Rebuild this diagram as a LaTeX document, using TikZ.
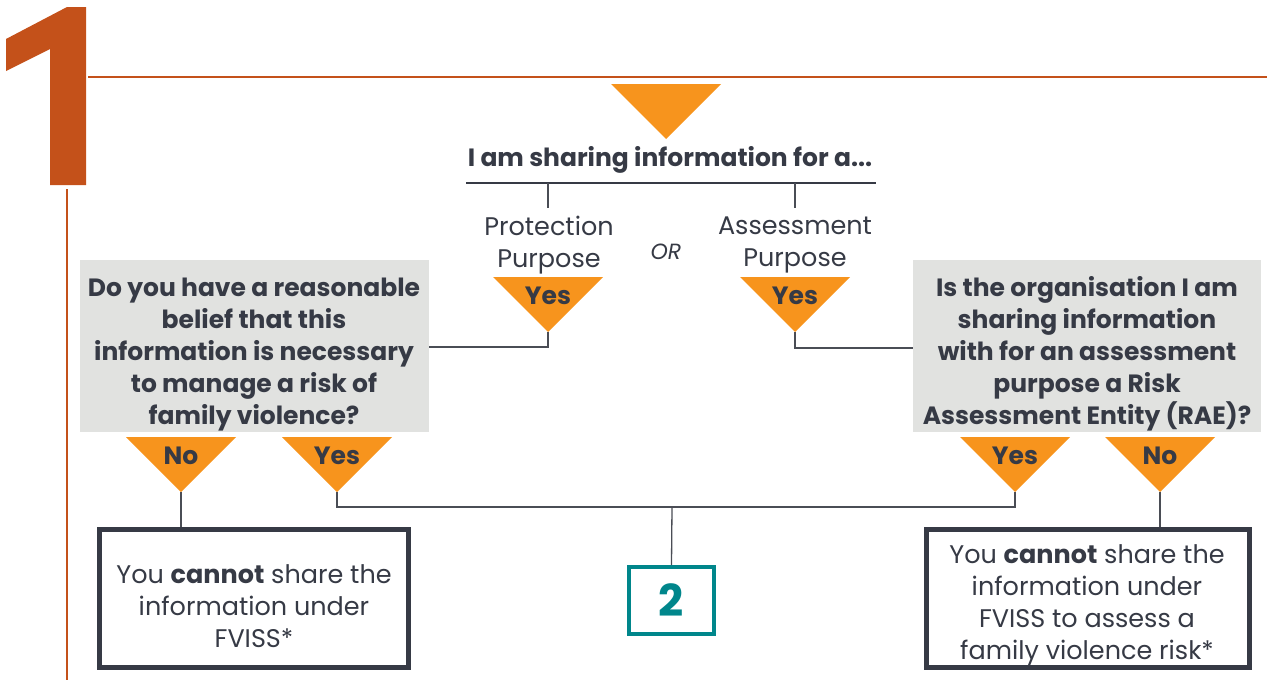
\documentclass[tikz,border=0pt]{standalone}
\usepackage{fontspec}
\setmainfont{Poppins}
\definecolor{rust}{HTML}{C4511A}
\definecolor{orng}{HTML}{F7941D}
\definecolor{ink}{HTML}{363A45}
\definecolor{boxgray}{HTML}{E1E2E0}
\definecolor{teal2}{HTML}{00868B}
\definecolor{linegray}{HTML}{4A4D55}
\tikzset{
  txt/.style={text=ink, align=center, inner sep=0pt, font=\fontsize{25.5}{32}\selectfont},
  btxt/.style={txt, font=\fontsize{25}{32}\selectfont\bfseries},
  qbox/.style={fill=boxgray, inner sep=0pt},
  endbox/.style={draw=ink, line width=5pt, fill=white, inner sep=0pt},
  conn/.style={draw=linegray, line width=1.3pt},
  pics/downtri/.style={code={
    \fill[orng] (-55,0) -- (55,0) -- (0,55) -- cycle;
    \coordinate (-tip) at (0,55);
    \node[btxt] at (0,19) {#1};
  }}
}
\begin{document}
\begin{tikzpicture}[x=1pt,y=-1pt]
\useasboundingbox (0,0) rectangle (1267,680);
% big 1
\fill[rust] (67,7) -- (86,7) -- (86,185) -- (50,185) -- (50,49) -- (6,71) -- (6,39) -- cycle;
\coordinate (hl) at (88,77); \coordinate (hr) at (1267,77);
\draw[rust, line width=2.2pt] (hl) -- (hr);
\coordinate (vt) at (67,189); \coordinate (vb) at (67,680);
\draw[rust, line width=2pt] (vt) -- (vb);
% top triangle
\fill[orng] (611,84) -- (721,84) -- (666,139) -- cycle;
\node[btxt] (head) at (670,160) {I am sharing information for a...};
\coordinate (ul) at (466,183); \coordinate (ur) at (876,183);
\draw[ink, line width=2.5pt] (ul) -- (ur);
\coordinate (pt) at (548,183); \coordinate (pb) at (548,208);
\coordinate (at) at (795,183); \coordinate (ab) at (795,208);
\draw[conn] (pt) -- (pb);
\draw[conn] (at) -- (ab);
\node[txt] (prot) at (549,245) {Protection\\Purpose};
\node[txt, font=\fontsize{22}{32}\selectfont\itshape] (or) at (666,252) {OR};
\node[txt] (assess) at (795,245) {Assessment\\Purpose};
\pic (ty1) at (548,277) {downtri=Yes};
\pic (ty2) at (795,277) {downtri=Yes};
% question boxes
\node[qbox, minimum width=349pt, minimum height=172pt] (q1) at (254.5,346) {};
\node[btxt] at (254,354.5) {Do you have a reasonable\\belief that this\\information is necessary\\to manage a risk of\\family violence?};
\node[qbox, minimum width=348pt, minimum height=172pt] (q2) at (1087,346) {};
\node[btxt] at (1087,353.5) {Is the organisation I am\\sharing information\\with for an assessment\\purpose a Risk\\Assessment Entity (RAE)?};
\draw[conn] (ty1-tip) |- (q1.east |- 0,347);
\draw[conn] (ty2-tip) |- (q2.west |- 0,348);
% answer triangles
\pic (n1) at (181,437) {downtri=No};
\pic (y1) at (337,437) {downtri=Yes};
\pic (y2) at (1015,437) {downtri=Yes};
\pic (n2) at (1160,437) {downtri=No};
% end boxes
\node[endbox, minimum width=309pt, minimum height=138pt] (e1) at (254,598.5) {};
\node[txt] at (254,606) {You \textbf{cannot} share the\\information under\\FVISS*};
\node[endbox, minimum width=323pt, minimum height=138pt] (e2) at (1088,598.5) {};
\node[txt] at (1087,605) {You \textbf{cannot} share the\\information under\\FVISS to assess a\\family violence risk*};
\node[draw=teal2, line width=4pt, minimum width=85pt, minimum height=67pt, inner sep=0pt, text=teal2, font=\fontsize{44}{44}\selectfont\bfseries] (two) at (671.5,600.5) {2};
% connectors
\draw[conn] (n1-tip) -- (e1.north -| n1-tip);
\draw[conn] (n2-tip) -- (e2.north -| n2-tip);
\coordinate (mid) at (672,507);
\draw[conn] (y1-tip) |- (mid) -| (y2-tip);
\draw[conn] (mid) -- (two.north);
\end{tikzpicture}
\end{document}
